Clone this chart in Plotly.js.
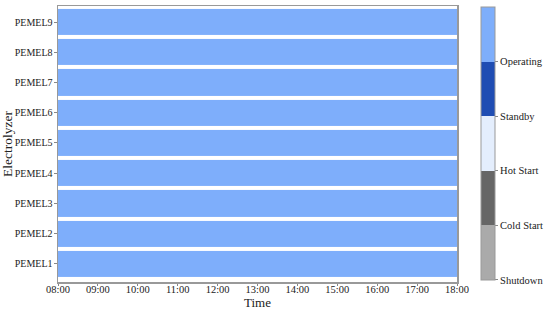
<!DOCTYPE html>
<html>
<head>
<meta charset="utf-8">
<script src="https://cdn.plot.ly/plotly-3.0.1.min.js"></script>
<style>html,body{margin:0;padding:0;background:#fff;}#chart{width:550px;height:310px;}</style>
</head>
<body>
<div id="chart"></div>
<script>
// Electrolyzer names (bottom to top)
const electrolyzers = ['PEMEL1','PEMEL2','PEMEL3','PEMEL4','PEMEL5','PEMEL6','PEMEL7','PEMEL8','PEMEL9'];
// State names (index = state code)
const stateNames = ['Shutdown','Cold Start','Hot Start','Standby','Operating'];
// Time segment edges
const timeEdges = ['08:00','18:00'];
// State code per segment for each electrolyzer
const PEMEL1 = [4];
const PEMEL2 = [4];
const PEMEL3 = [4];
const PEMEL4 = [4];
const PEMEL5 = [4];
const PEMEL6 = [4];
const PEMEL7 = [4];
const PEMEL8 = [4];
const PEMEL9 = [4];
const xTickLabels = ['08:00','09:00','10:00','11:00','12:00','13:00','14:00','15:00','16:00','17:00','18:00'];

const day = '2024-01-01 ';
const rows = [PEMEL1,PEMEL2,PEMEL3,PEMEL4,PEMEL5,PEMEL6,PEMEL7,PEMEL8,PEMEL9];
const z = rows.map(r => r.map(s => s + 0.5));
const stateColors = ['#aaaaaa','#666666','#e4eefd','#1f4db3','#7eaefb'];
const cs = [];
stateColors.forEach((c,i)=>{cs.push([i/5,c]);cs.push([(i+1)/5,c]);});

const font = {family:'"Liberation Serif", "Times New Roman", serif', color:'#222'};

const trace = {
  type:'heatmap',
  x: timeEdges.map(t => day + t),
  y: electrolyzers,
  z: z,
  zmin:0, zmax:5,
  colorscale: cs,
  ygap: 4,
  hoverinfo:'skip',
  colorbar:{
    tickvals:[0,1,2,3,4],
    ticktext: stateNames,
    ticks:'outside', ticklen:3, tickcolor:'#888',
    tickfont:{family:font.family, size:10.5, color:'#222'},
    thickness:14, thicknessmode:'pixels',
    len:273, lenmode:'pixels',
    x:1.06, xanchor:'left', xpad:0,
    y:0.997, yanchor:'top', ypad:0,
    outlinewidth:1, outlinecolor:'#999'
  }
};

const layout = {
  width:550, height:310,
  margin:{l:58, r:93, t:6, b:28},
  paper_bgcolor:'#fff', plot_bgcolor:'#fff',
  font: font,
  xaxis:{
    type:'date',
    range:[day+'08:00', day+'18:00'],
    tickvals: xTickLabels.map(t => day + t),
    ticktext: xTickLabels,
    tickfont:{size:10.5},
    ticks:'outside', ticklen:2, tickcolor:'#888',
    ticklabelstandoff:-5,
    showline:true, linecolor:'#999', linewidth:1.5, mirror:true,
    showgrid:false, zeroline:false,
    automargin:false,
    title:{text:'Time', font:{size:13}, standoff:0}
  },
  yaxis:{
    type:'category',
    range:[-0.6, 8.53],
    tickfont:{size:10},
    ticks:'outside', ticklen:3, tickcolor:'#888',
    ticklabelstandoff:-1,
    showline:true, linecolor:'#999', linewidth:1.5, mirror:true,
    showgrid:false, zeroline:false,
    automargin:false,
    title:{text:'Electrolyzer', font:{size:13.5}, standoff:0}
  }
};

Plotly.newPlot('chart',[trace],layout,{displayModeBar:false,staticPlot:true});
</script>
</body>
</html>
